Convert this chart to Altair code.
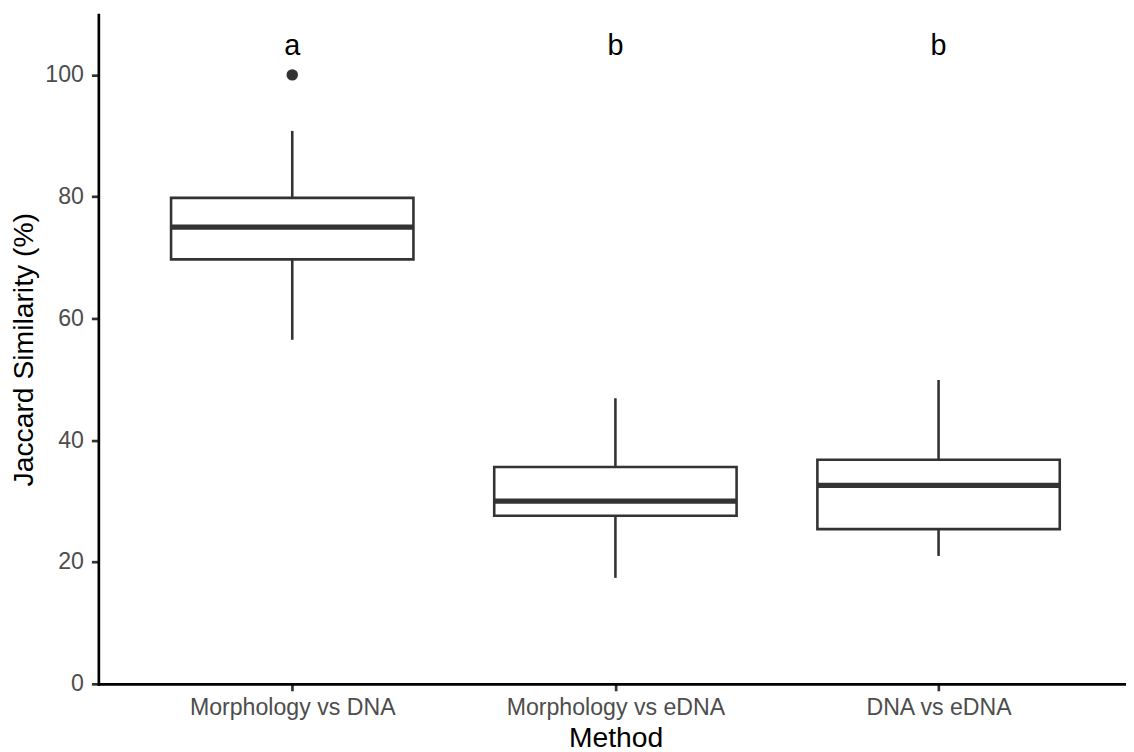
import altair as alt
import pandas as pd

# ---- data ----
methods = ["Morphology vs DNA", "Morphology vs eDNA", "DNA vs eDNA"]
positions = [1, 2, 3]
lower_whisker = [56.5, 17.4, 21.0]
q1 = [69.7, 27.6, 25.4]
median = [75.0, 30.0, 32.6]
q3 = [79.8, 35.6, 36.8]
upper_whisker = [90.8, 46.9, 49.9]

outlier_pos = [1]
outlier_value = [100.0]

letters = ["a", "b", "b"]
letter_y = [103.2, 103.2, 103.2]

y_ticks = [0, 20, 40, 60, 80, 100]

# ---- tables ----
box = pd.DataFrame({
    "method": methods, "pos": positions, "lo": lower_whisker, "q1": q1,
    "med": median, "q3": q3, "hi": upper_whisker,
})
out = pd.DataFrame({"pos": outlier_pos, "value": outlier_value})
lab = pd.DataFrame({"pos": positions, "letter": letters, "y": letter_y})

FONT = "Liberation Sans"
LINE = "#333333"
HALF = 0.375

xscale = alt.Scale(domain=[0.4, 3.58], nice=False, zero=False)
yscale = alt.Scale(domain=[0, 109.9], nice=False, zero=False)

label_expr = " : ".join(
    f"datum.value == {p} ? '{m}'" for p, m in zip(positions, methods)
) + " : ''"

x_axis = alt.Axis(
    values=positions, labelExpr=label_expr, title="Method",
    grid=False, domainColor="black", domainWidth=2.7, domainCap="square",
    tickColor=LINE, tickWidth=2.7, tickSize=7,
    labelFont=FONT, labelFontSize=23.3, labelColor="#4D4D4D", labelLimit=0,
    labelBaseline="alphabetic", labelPadding=24, labelFlush=False, labelOverlap=False,
    titleFont=FONT, titleFontSize=28.5, titleFontWeight="normal", titleColor="black",
    titleX=521, titleY=63, titleBaseline="alphabetic", titleAlign="center",
)
y_axis = alt.Axis(
    values=y_ticks, title="Jaccard Similarity (%)",
    grid=False, domainColor="black", domainWidth=2.7, domainCap="square",
    tickColor=LINE, tickWidth=2.7, tickSize=7,
    labelFont=FONT, labelFontSize=23.3, labelColor="#4D4D4D", labelPadding=8,
    labelFlush=False, labelOverlap=False,
    titleFont=FONT, titleFontSize=28.5, titleFontWeight="normal", titleColor="black",
    titleX=-66, titleY=337, titleAngle=270, titleBaseline="alphabetic", titleAlign="center",
)

base = alt.Chart(box).transform_calculate(
    xl=f"datum.pos - {HALF}", xr=f"datum.pos + {HALF}"
)

whisk_hi = base.mark_rule(color=LINE, strokeWidth=2.6).encode(
    x=alt.X("pos:Q", scale=xscale, axis=x_axis),
    y=alt.Y("q3:Q", scale=yscale, axis=y_axis),
    y2="hi:Q",
)
whisk_lo = base.mark_rule(color=LINE, strokeWidth=2.6).encode(
    x=alt.X("pos:Q", scale=xscale),
    y=alt.Y("lo:Q", scale=yscale),
    y2="q1:Q",
)
boxes = base.mark_rect(fill="white", stroke=LINE, strokeWidth=2.6).encode(
    x=alt.X("xl:Q", scale=xscale), x2="xr:Q",
    y=alt.Y("q1:Q", scale=yscale), y2="q3:Q",
)
medians = base.mark_rule(color=LINE, strokeWidth=5.4, strokeCap="butt").encode(
    x=alt.X("xl:Q", scale=xscale), x2="xr:Q",
    y=alt.Y("med:Q", scale=yscale),
)
outliers = alt.Chart(out).mark_point(
    filled=True, color=LINE, size=133, opacity=1
).encode(
    x=alt.X("pos:Q", scale=xscale),
    y=alt.Y("value:Q", scale=yscale),
)
texts = alt.Chart(lab).mark_text(
    font=FONT, fontSize=29, color="black", baseline="alphabetic", align="center"
).encode(
    x=alt.X("pos:Q", scale=xscale),
    y=alt.Y("y:Q", scale=yscale),
    text="letter:N",
)

chart = alt.layer(whisk_hi, whisk_lo, boxes, medians, outliers, texts).properties(
    width=1035, height=674,
    autosize=alt.AutoSizeParams(type="none"),
    padding={"left": 91, "top": 4, "right": 0, "bottom": 66},
    background="white",
).configure_view(stroke=None)

chart.save("out.html", embed_options={"renderer": "svg", "actions": False})
